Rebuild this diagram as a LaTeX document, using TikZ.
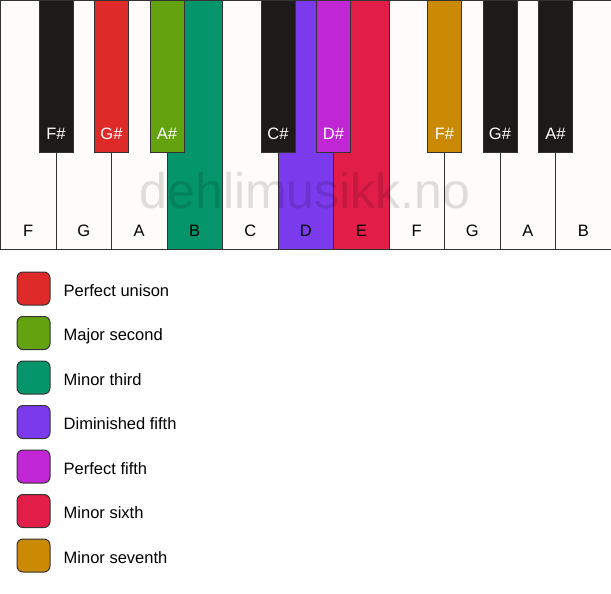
\documentclass[tikz,border=0pt]{standalone}
\usepackage{fontspec}
\setmainfont{Liberation Sans}
\usetikzlibrary{positioning}

\definecolor{keywhite}{HTML}{FDFCFA}
\definecolor{keyblack}{HTML}{1C1B1A}
\definecolor{keyline}{HTML}{333333}
\definecolor{unison}{HTML}{DE2A28}
\definecolor{majsecond}{HTML}{62A30F}
\definecolor{minthird}{HTML}{05956A}
\definecolor{dimfifth}{HTML}{7B3AEC}
\definecolor{perffifth}{HTML}{C026D3}
\definecolor{minsixth}{HTML}{E11D48}
\definecolor{minseventh}{HTML}{CA8A04}

\begin{document}
\begin{tikzpicture}[
  x=1pt, y=-1pt,
  wkey/.style={rectangle, draw=keyline, line width=1pt, fill=keywhite, anchor=north west, inner sep=0pt, outer sep=0pt, minimum width=55.5pt, minimum height=249pt},
  bkey/.style={rectangle, draw=keyline, line width=1pt, fill=keyblack, anchor=north, inner sep=0pt, outer sep=0pt, minimum width=34pt, minimum height=152pt},
  wlab/.style={font=\fontsize{16.5}{19}\selectfont, text=black},
  blab/.style={font=\fontsize{16.5}{19}\selectfont, text=white},
  swatch/.style={rectangle, rounded corners=6pt, draw=keyline, line width=1pt, inner sep=0pt, outer sep=0pt, minimum size=33pt},
  legtext/.style={font=\fontsize{16.5}{19}\selectfont, inner sep=0pt, text height=18.5pt, text depth=3.1pt, anchor=west},
  watermark/.style={font=\fontsize{50}{60}\selectfont, text=black, text opacity=0.12, inner sep=0pt, anchor=base}
]
\useasboundingbox (0,0) rectangle (611,594);

% White keys
\node[wkey] (kF1) at (0.5,0.5) {};
\node[wkey] (kG1) at (kF1.north east) {};
\node[wkey] (kA1) at (kG1.north east) {};
\node[wkey, fill=minthird] (kB1) at (kA1.north east) {};
\node[wkey] (kC2) at (kB1.north east) {};
\node[wkey, fill=dimfifth] (kD2) at (kC2.north east) {};
\node[wkey, fill=minsixth] (kE2) at (kD2.north east) {};
\node[wkey] (kF2) at (kE2.north east) {};
\node[wkey] (kG2) at (kF2.north east) {};
\node[wkey] (kA2) at (kG2.north east) {};
\node[wkey] (kB2) at (kA2.north east) {};

% White key names
\node[wlab] (lF1) at ([yshift=19pt]kF1.south) {F};
\node[wlab] (lG1) at ([yshift=19pt]kG1.south) {G};
\node[wlab] (lA1) at ([yshift=19pt]kA1.south) {A};
\node[wlab] (lB1) at ([yshift=19pt]kB1.south) {B};
\node[wlab] (lC2) at ([yshift=19pt]kC2.south) {C};
\node[wlab] (lD2) at ([yshift=19pt]kD2.south) {D};
\node[wlab] (lE2) at ([yshift=19pt]kE2.south) {E};
\node[wlab] (lF2) at ([yshift=19pt]kF2.south) {F};
\node[wlab] (lG2) at ([yshift=19pt]kG2.south) {G};
\node[wlab] (lA2) at ([yshift=19pt]kA2.south) {A};
\node[wlab] (lB2) at ([yshift=19pt]kB2.south) {B};

% Watermark
\node[watermark] (wm) at (305,208) {dehlimusikk.no};

% Black keys
\node[bkey] (kFs1) at (kF1.north east) {};
\node[bkey, fill=unison] (kGs1) at (kG1.north east) {};
\node[bkey, fill=majsecond] (kAs1) at (kA1.north east) {};
\node[bkey] (kCs2) at (kC2.north east) {};
\node[bkey, fill=perffifth] (kDs2) at (kD2.north east) {};
\node[bkey, fill=minseventh] (kFs2) at (kF2.north east) {};
\node[bkey] (kGs2) at (kG2.north east) {};
\node[bkey] (kAs2) at (kA2.north east) {};

% Black key names
\node[blab] (lFs1) at ([yshift=19pt]kFs1.south) {F\#};
\node[blab] (lGs1) at ([yshift=19pt]kGs1.south) {G\#};
\node[blab] (lAs1) at ([yshift=19pt]kAs1.south) {A\#};
\node[blab] (lCs2) at ([yshift=19pt]kCs2.south) {C\#};
\node[blab] (lDs2) at ([yshift=19pt]kDs2.south) {D\#};
\node[blab] (lFs2) at ([yshift=19pt]kFs2.south) {F\#};
\node[blab] (lGs2) at ([yshift=19pt]kGs2.south) {G\#};
\node[blab] (lAs2) at ([yshift=19pt]kAs2.south) {A\#};

% Legend
\node[swatch, fill=unison] (sq1) at (33.5,288.5) {};
\node[swatch, fill=majsecond, below=11.5pt of sq1] (sq2) {};
\node[swatch, fill=minthird, below=11.5pt of sq2] (sq3) {};
\node[swatch, fill=dimfifth, below=11.5pt of sq3] (sq4) {};
\node[swatch, fill=perffifth, below=11.5pt of sq4] (sq5) {};
\node[swatch, fill=minsixth, below=11.5pt of sq5] (sq6) {};
\node[swatch, fill=minseventh, below=11.5pt of sq6] (sq7) {};

\node[legtext, right=13.5pt of sq1] (t1) {Perfect unison};
\node[legtext, right=13.5pt of sq2] (t2) {Major second};
\node[legtext, right=13.5pt of sq3] (t3) {Minor third};
\node[legtext, right=13.5pt of sq4] (t4) {Diminished fifth};
\node[legtext, right=13.5pt of sq5] (t5) {Perfect fifth};
\node[legtext, right=13.5pt of sq6] (t6) {Minor sixth};
\node[legtext, right=13.5pt of sq7] (t7) {Minor seventh};

\end{tikzpicture}
\end{document}
